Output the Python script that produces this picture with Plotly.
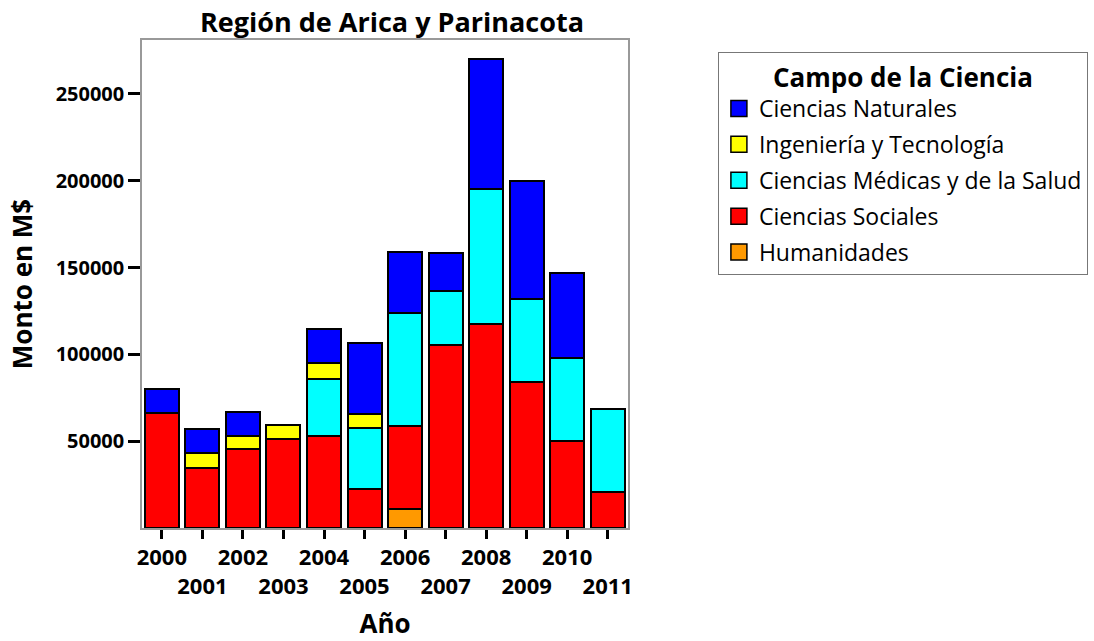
import plotly.graph_objects as go

years = ["2000", "2001", "2002", "2003", "2004", "2005",
         "2006", "2007", "2008", "2009", "2010", "2011"]
humanidades = [None, None, None, None, None, None, 11200, None, None, None, None, None]
sociales = [66500, 34600, 45300, 51100, 52800, 22700, 47800, 105600, 117300, 84100, 50100, 21000]
medicas = [None, None, None, None, 33200, 35100, 65000, 31100, 77900, 47800, 47600, 47400]
ingenieria = [None, 8500, 7500, 8000, 8800, 7800, None, None, None, None, None, None]
naturales = [13800, 13800, 14000, None, 19700, 41100, 35100, 21600, 75000, 68100, 48900, None]

series = [
    ("Humanidades", humanidades, "#FF9900"),
    ("Ciencias Sociales", sociales, "#FF0000"),
    ("Ciencias Médicas y de la Salud", medicas, "#00FFFF"),
    ("Ingeniería y Tecnología", ingenieria, "#FFFF00"),
    ("Ciencias Naturales", naturales, "#0000FF"),
]

tick_text = [y if i % 2 == 0 else "<br>" + y for i, y in enumerate(years)]
y_ticks = [50000, 100000, 150000, 200000, 250000]

FONT = "Open Sans"
fig = go.Figure()
for name, vals, color in series:
    fig.add_trace(go.Bar(
        x=years, y=vals, name=name, showlegend=False,
        marker=dict(color=color, line=dict(color="black", width=2)),
    ))
# legend entries (square swatches), top of stack first
for name, vals, color in reversed(series):
    fig.add_trace(go.Scatter(
        x=[None], y=[None], name=name, mode="markers", legendgroup=name,
        marker=dict(symbol="square", size=20, color=color,
                    line=dict(color="black", width=1.5)),
    ))

fig.update_layout(
    width=1094, height=641,
    barmode="stack", bargap=0.16,
    plot_bgcolor="white", paper_bgcolor="white",
    margin=dict(l=142, r=466, t=40, b=113, autoexpand=False),
    font=dict(family=FONT, color="black"),
    title=dict(text="<b>Región de Arica y Parinacota</b>", x=(392 - 142) / 486, xref="paper",
               xanchor="center", y=0.965, yanchor="middle",
               font=dict(size=27, family=FONT)),
    xaxis=dict(
        type="category", range=[-0.49, 11.5],
        tickvals=years, ticktext=tick_text, tickangle=0,
        ticks="outside", ticklen=9, tickwidth=3, tickcolor="black",
        tickfont=dict(size=22, family=FONT, weight="bold"),
        showline=True, linecolor="#999999", linewidth=1.5, mirror=True,
        title=dict(text="<b>Año</b>", font=dict(size=26, family=FONT), standoff=26),
        automargin=False,
    ),
    yaxis=dict(
        range=[0, 281000], tickvals=y_ticks, tickformat="d",
        ticks="outside", ticklen=12, tickwidth=3, tickcolor="black",
        tickfont=dict(size=20, family=FONT, weight="bold"),
        showgrid=False, zeroline=False,
        showline=True, linecolor="#999999", linewidth=1.5, mirror=True,
        title=dict(text="<b>Monto en M$</b>", font=dict(size=26, family=FONT), standoff=16),
        automargin=False,
    ),
    legend=dict(
        x=1.185, xanchor="left", y=0.975, yanchor="top",
        traceorder="grouped", tracegroupgap=3,
        bordercolor="#777777", borderwidth=1,
        font=dict(size=23, family=FONT),
        itemsizing="trace",
        title=dict(text="<b>Campo de la Ciencia</b>", side="top center",
                   font=dict(size=26, family=FONT)),
    ),
)

fig.write_html("out.html", config={"displayModeBar": False},
               post_script="document.body.style.margin='0';")
